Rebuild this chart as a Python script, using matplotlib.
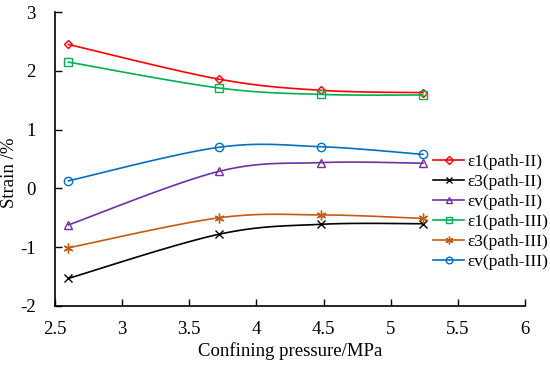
import matplotlib
matplotlib.use("Agg")
import matplotlib.pyplot as plt
import numpy as np

plt.rcParams["font.family"] = ["Liberation Serif", "DejaVu Serif"]
plt.rcParams["axes.unicode_minus"] = False

pressure = [2.6, 3.72, 4.48, 5.24]

e1_path2 = [2.45, 1.86, 1.67, 1.63]
e3_path2 = [-1.53, -0.78, -0.61, -0.60]
ev_path2 = [-0.62, 0.29, 0.44, 0.43]
e1_path3 = [2.15, 1.71, 1.60, 1.59]
e3_path3 = [-1.01, -0.50, -0.45, -0.51]
ev_path3 = [0.13, 0.70, 0.71, 0.58]

labels = ["ε1(path-II)", "ε3(path-II)", "εv(path-II)",
          "ε1(path-III)", "ε3(path-III)", "εv(path-III)"]
series = [e1_path2, e3_path2, ev_path2, e1_path3, e3_path3, ev_path3]
colors = ["#ff0000", "#000000", "#7030a0", "#00b050", "#c55a11", "#0070c0"]
markers = ["D", "x", "^", "s", (6, 2, 0), "o"]
msizes = [4.5, 6, 5.5, 6, 7, 6]


def smooth(x, y, n=40):
    # excel-style bezier smoothing
    x = np.asarray(x, float)
    y = np.asarray(y, float)
    px = np.concatenate([[x[0]], x, [x[-1]]])
    py = np.concatenate([[y[0]], y, [y[-1]]])
    t = np.linspace(0, 1, n)
    xs, ys = [], []
    for i in range(1, len(px) - 2):
        p0 = np.array([px[i], py[i]])
        p3 = np.array([px[i + 1], py[i + 1]])
        c1 = p0 + (np.array([px[i + 1], py[i + 1]]) - np.array([px[i - 1], py[i - 1]])) / 6
        c2 = p3 - (np.array([px[i + 2], py[i + 2]]) - np.array([px[i], py[i]])) / 6
        b = ((1 - t) ** 3)[:, None] * p0 + (3 * (1 - t) ** 2 * t)[:, None] * c1 \
            + (3 * (1 - t) * t ** 2)[:, None] * c2 + (t ** 3)[:, None] * p3
        xs.append(b[:, 0])
        ys.append(b[:, 1])
    return np.concatenate(xs), np.concatenate(ys)


fig = plt.figure(figsize=(5.5, 3.68), dpi=100)
ax = fig.add_axes([0.1, 0.1685, 0.8545, 0.7985])

handles = []
for y, lab, c, m, ms in zip(series, labels, colors, markers, msizes):
    sx, sy = smooth(pressure, y)
    ax.plot(sx, sy, color=c, linewidth=1.2)
    ax.plot(pressure, y, linestyle="none", marker=m, markersize=ms,
            markerfacecolor="none", markeredgecolor=c, markeredgewidth=1.0)
    h, = ax.plot([], [], color=c, linewidth=1.2, marker=m, markersize=ms * 0.8,
                 markerfacecolor="none", markeredgecolor=c, markeredgewidth=1.0)
    handles.append(h)

ax.set_xlim(2.5, 6)
ax.set_ylim(-2, 3)
ax.set_xticks([2.5, 3, 3.5, 4, 4.5, 5, 5.5, 6])
ax.set_xticklabels(["2.5", "3", "3.5", "4", "4.5", "5", "5.5", "6"])
ax.set_yticks([-2, -1, 0, 1, 2, 3])
ax.tick_params(direction="in", length=5, width=1, labelsize=13.5)
ax.tick_params(axis="x", pad=11)
ax.tick_params(axis="y", pad=14)
ax.spines["top"].set_visible(False)
ax.spines["right"].set_visible(False)
for s in ["left", "bottom"]:
    ax.spines[s].set_linewidth(1.2)

ax.set_xlabel("Confining pressure/MPa", fontsize=13.5, labelpad=3)
ax.set_ylabel("Strain /%", fontsize=13.5)
ax.yaxis.set_label_coords(-0.079, 0.454)

fig.legend(handles, labels, loc="upper left", bbox_to_anchor=(0.788, 0.582),
           frameon=False, fontsize=12.5, handlelength=1.75, handletextpad=0.2,
           labelspacing=0.22, borderaxespad=0, borderpad=0)

fig.savefig("out.png", dpi=100)
